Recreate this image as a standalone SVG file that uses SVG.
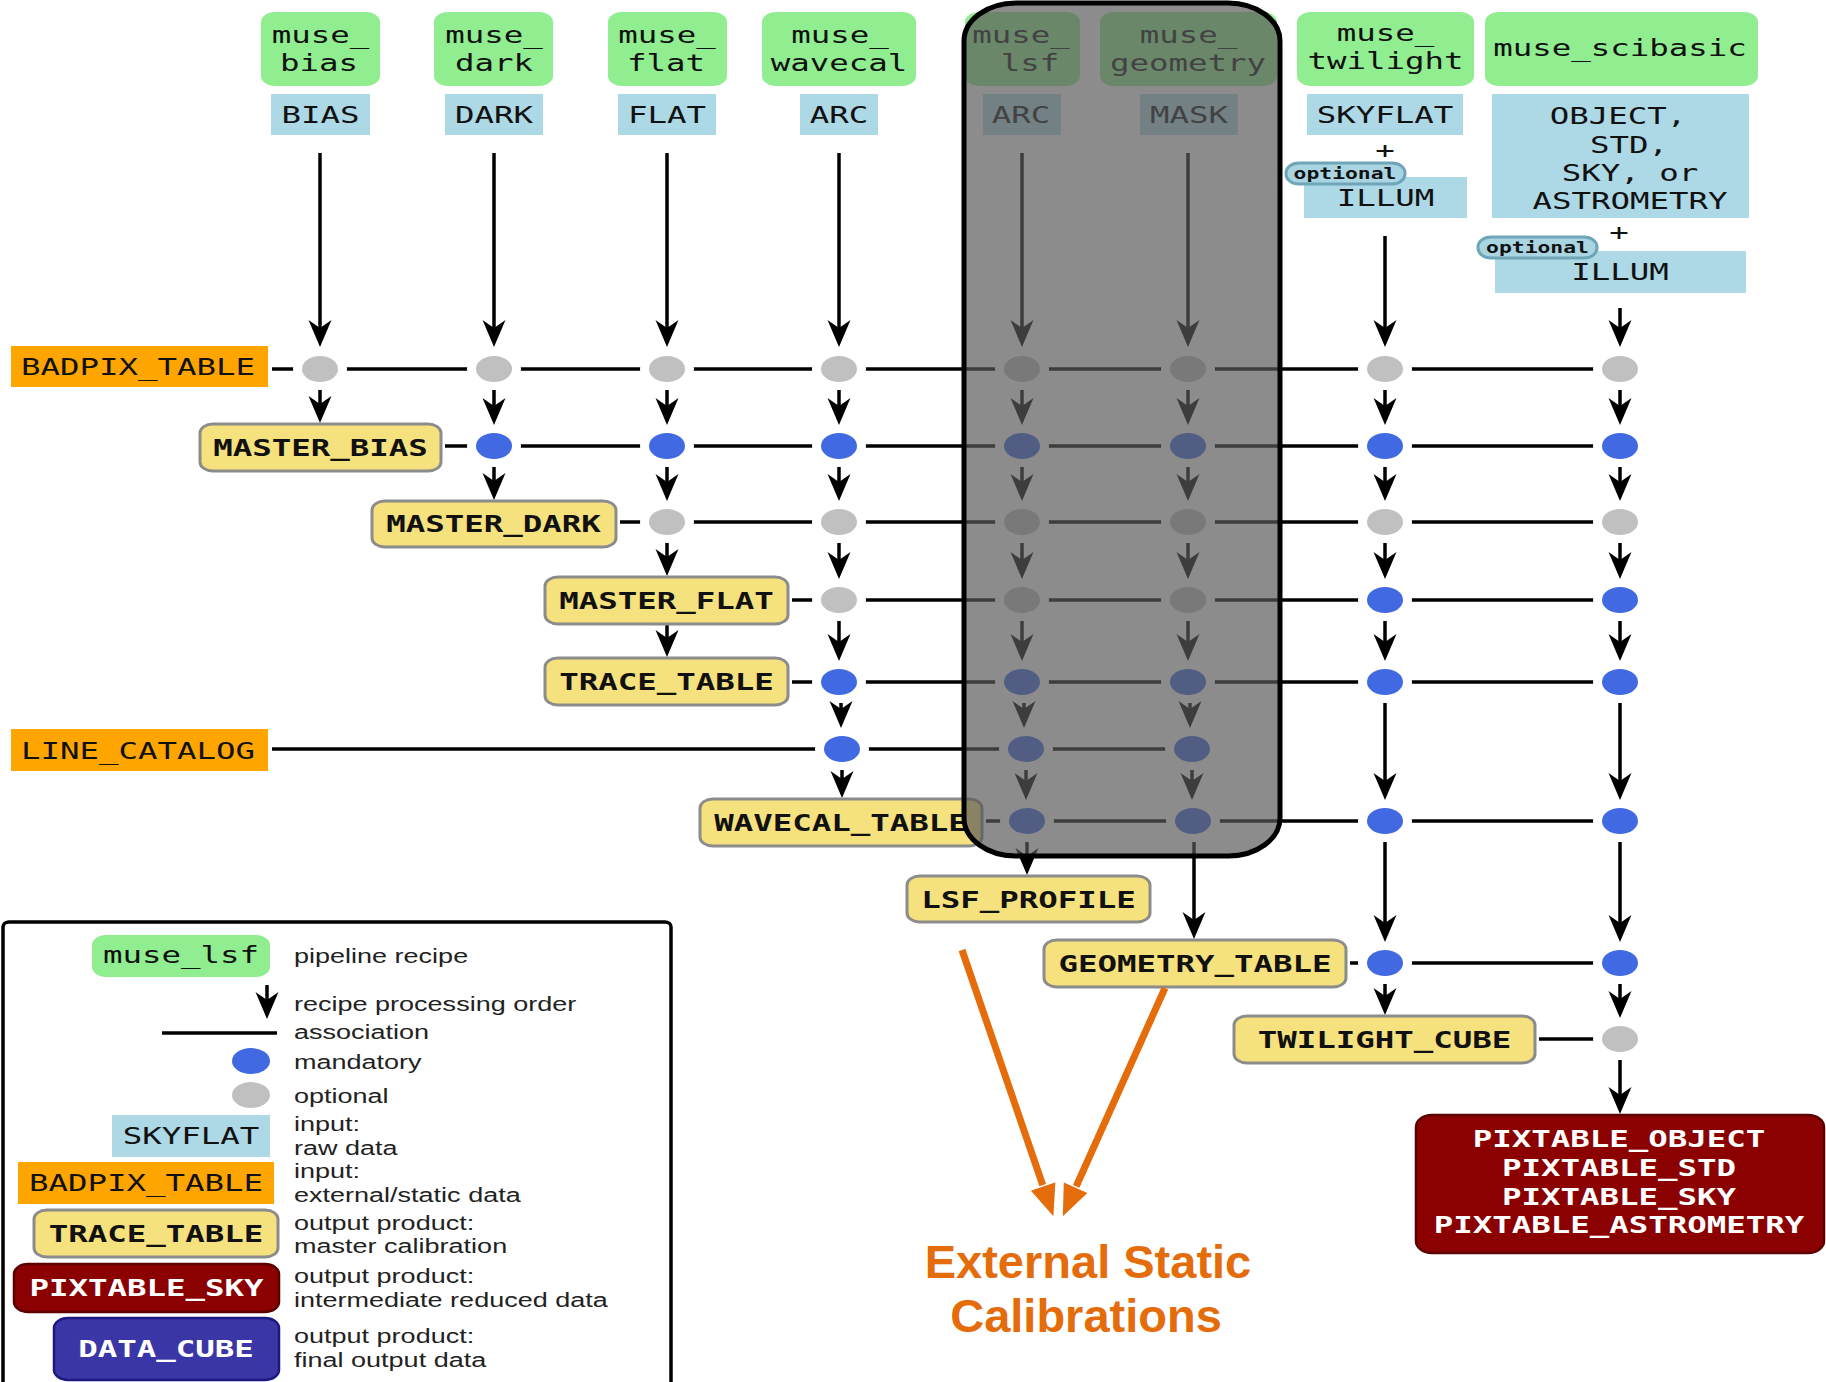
<svg xmlns="http://www.w3.org/2000/svg" width="1826" height="1382" viewBox="0 0 1826 1382">
<defs>
<style>
.rec{fill:#90ee90}
.inp{fill:#add8e6}
.ext{fill:#ffa500}
.mst{fill:#f5e17d;stroke:#8c8c8c;stroke-width:3}
.itm{fill:#8b0000;stroke:#5c0000;stroke-width:2.5}
.fin{fill:#3a36a6;stroke:#1c1880;stroke-width:2.5}
.badge{fill:#a9d5e3;stroke:#6ea6b8;stroke-width:3}
.t{font-family:'DejaVu Sans Mono',monospace;font-size:23.5px;text-anchor:middle;fill:#111}
.b{font-weight:bold}
.w{fill:#fff}
.sm{font-size:15.5px}
.ls{font-family:'Liberation Sans',Arial,sans-serif;font-size:19.3px;fill:#222}
.ln{stroke:#000;stroke-width:3.5;fill:none}
.ar{stroke:#000;stroke-width:3.5;fill:none;marker-end:url(#ah)}
.jm{fill:#4169e1;stroke:#fff;stroke-width:18;paint-order:stroke}
.jo{fill:#c0c0c0;stroke:#fff;stroke-width:18;paint-order:stroke}
.lm{fill:#4169e1}
.lo{fill:#c0c0c0}
.or{stroke:#e46c0a;stroke-width:7;fill:none}
.orh{fill:#e46c0a;stroke:#fff;stroke-width:1.5}
.ot{font-family:'Liberation Sans',Arial,sans-serif;font-weight:bold;font-size:47px;fill:#e46c0a;text-anchor:middle}
</style>
<marker id="ah" markerUnits="userSpaceOnUse" markerWidth="40" markerHeight="30" viewBox="-20 -15 40 30" refX="0" refY="0" orient="auto">
<path d="M10,0 L-17,-11.5 L-9,0 L-17,11.5 Z" fill="#000"/>
</marker>
</defs>
<rect x="0" y="0" width="1826" height="1382" fill="#fff"/>

<g id="connectors">
<g id="associations">
<line class="ln" x1="272" y1="369" x2="1620" y2="369"/>
<line class="ln" x1="445" y1="446" x2="1620" y2="446"/>
<line class="ln" x1="620" y1="522" x2="1620" y2="522"/>
<line class="ln" x1="792" y1="600" x2="1620" y2="600"/>
<line class="ln" x1="792" y1="682" x2="1620" y2="682"/>
<line class="ln" x1="272" y1="749" x2="1192" y2="749"/>
<line class="ln" x1="986" y1="821" x2="1620" y2="821"/>
<line class="ln" x1="1350" y1="963" x2="1620" y2="963"/>
<line class="ln" x1="1539" y1="1039" x2="1620" y2="1039"/>
</g>
<g id="junctions">
<ellipse class="jo" cx="320" cy="369" rx="18" ry="13"/>
<ellipse class="jo" cx="494" cy="369" rx="18" ry="13"/>
<ellipse class="jo" cx="667" cy="369" rx="18" ry="13"/>
<ellipse class="jo" cx="839" cy="369" rx="18" ry="13"/>
<ellipse class="jo" cx="1022" cy="369" rx="18" ry="13"/>
<ellipse class="jo" cx="1188" cy="369" rx="18" ry="13"/>
<ellipse class="jo" cx="1385" cy="369" rx="18" ry="13"/>
<ellipse class="jo" cx="1620" cy="369" rx="18" ry="13"/>

<ellipse class="jm" cx="494" cy="446" rx="18" ry="13"/>
<ellipse class="jm" cx="667" cy="446" rx="18" ry="13"/>
<ellipse class="jm" cx="839" cy="446" rx="18" ry="13"/>
<ellipse class="jm" cx="1022" cy="446" rx="18" ry="13"/>
<ellipse class="jm" cx="1188" cy="446" rx="18" ry="13"/>
<ellipse class="jm" cx="1385" cy="446" rx="18" ry="13"/>
<ellipse class="jm" cx="1620" cy="446" rx="18" ry="13"/>

<ellipse class="jo" cx="667" cy="522" rx="18" ry="13"/>
<ellipse class="jo" cx="839" cy="522" rx="18" ry="13"/>
<ellipse class="jo" cx="1022" cy="522" rx="18" ry="13"/>
<ellipse class="jo" cx="1188" cy="522" rx="18" ry="13"/>
<ellipse class="jo" cx="1385" cy="522" rx="18" ry="13"/>
<ellipse class="jo" cx="1620" cy="522" rx="18" ry="13"/>

<ellipse class="jo" cx="839" cy="600" rx="18" ry="13"/>
<ellipse class="jo" cx="1022" cy="600" rx="18" ry="13"/>
<ellipse class="jo" cx="1188" cy="600" rx="18" ry="13"/>
<ellipse class="jm" cx="1385" cy="600" rx="18" ry="13"/>
<ellipse class="jm" cx="1620" cy="600" rx="18" ry="13"/>

<ellipse class="jm" cx="839" cy="682" rx="18" ry="13"/>
<ellipse class="jm" cx="1022" cy="682" rx="18" ry="13"/>
<ellipse class="jm" cx="1188" cy="682" rx="18" ry="13"/>
<ellipse class="jm" cx="1385" cy="682" rx="18" ry="13"/>
<ellipse class="jm" cx="1620" cy="682" rx="18" ry="13"/>

<ellipse class="jm" cx="842" cy="749" rx="18" ry="13"/>
<ellipse class="jm" cx="1026" cy="749" rx="18" ry="13"/>
<ellipse class="jm" cx="1192" cy="749" rx="18" ry="13"/>

<ellipse class="jm" cx="1027" cy="821" rx="18" ry="13"/>
<ellipse class="jm" cx="1193" cy="821" rx="18" ry="13"/>
<ellipse class="jm" cx="1385" cy="821" rx="18" ry="13"/>
<ellipse class="jm" cx="1620" cy="821" rx="18" ry="13"/>

<ellipse class="jm" cx="1385" cy="963" rx="18" ry="13"/>
<ellipse class="jm" cx="1620" cy="963" rx="18" ry="13"/>

<ellipse class="jo" cx="1620" cy="1039" rx="18" ry="13"/>
</g>
<g id="order-arrows">
<path class="ar" d="M320,153 V337"/>
<path class="ar" d="M320,390 V413"/>

<path class="ar" d="M494,153 V337"/>
<path class="ar" d="M494,390 V415"/>
<path class="ar" d="M494,467 V490"/>

<path class="ar" d="M667,153 V337"/>
<path class="ar" d="M667,390 V415"/>
<path class="ar" d="M667,467 V491"/>
<path class="ar" d="M667,543 V566"/>
<path class="ar" d="M667,624 V647"/>

<path class="ar" d="M839,153 V337"/>
<path class="ar" d="M839,390 V415"/>
<path class="ar" d="M839,467 V491"/>
<path class="ar" d="M839,543 V569"/>
<path class="ar" d="M839,621 V651"/>
<path class="ar" d="M841,703 V718"/>
<path class="ar" d="M842,770 V788"/>

<path class="ar" d="M1022,153 V337"/>
<path class="ar" d="M1022,390 V415"/>
<path class="ar" d="M1022,467 V491"/>
<path class="ar" d="M1022,543 V569"/>
<path class="ar" d="M1022,621 V651"/>
<path class="ar" d="M1024,703 V718"/>
<path class="ar" d="M1026,770 V790"/>
<path class="ar" d="M1027,842 V865"/>

<path class="ar" d="M1188,153 V337"/>
<path class="ar" d="M1188,390 V415"/>
<path class="ar" d="M1188,467 V491"/>
<path class="ar" d="M1188,543 V569"/>
<path class="ar" d="M1188,621 V651"/>
<path class="ar" d="M1190,703 V718"/>
<path class="ar" d="M1192,770 V790"/>
<path class="ar" d="M1194,842 V929"/>

<path class="ar" d="M1385,236 V337"/>
<path class="ar" d="M1385,390 V415"/>
<path class="ar" d="M1385,467 V491"/>
<path class="ar" d="M1385,543 V569"/>
<path class="ar" d="M1385,621 V651"/>
<path class="ar" d="M1385,703 V790"/>
<path class="ar" d="M1385,842 V932"/>
<path class="ar" d="M1385,984 V1005"/>

<path class="ar" d="M1620,308 V337"/>
<path class="ar" d="M1620,390 V415"/>
<path class="ar" d="M1620,467 V491"/>
<path class="ar" d="M1620,543 V569"/>
<path class="ar" d="M1620,621 V651"/>
<path class="ar" d="M1620,703 V790"/>
<path class="ar" d="M1620,842 V932"/>
<path class="ar" d="M1620,984 V1008"/>
<path class="ar" d="M1620,1060 V1104"/>
</g>
</g>

<g id="recipes">
<g id="muse_bias"><rect class="rec" x="261" y="12" width="119" height="74" rx="14" ry="10"/>
<text class="t" transform="translate(320.5,42.5) scale(1.38,1)">muse_</text><text class="t" transform="translate(319,71) scale(1.38,1)">bias</text></g>
<g id="muse_dark"><rect class="rec" x="434" y="12" width="119" height="74" rx="14" ry="10"/>
<text class="t" transform="translate(494,42.5) scale(1.38,1)">muse_</text><text class="t" transform="translate(494,71) scale(1.38,1)">dark</text></g>
<g id="muse_flat"><rect class="rec" x="608" y="12" width="119" height="74" rx="14" ry="10"/>
<text class="t" transform="translate(667,42.5) scale(1.38,1)">muse_</text><text class="t" transform="translate(666,71) scale(1.38,1)">flat</text></g>
<g id="muse_wavecal"><rect class="rec" x="762" y="12" width="154" height="74" rx="14" ry="10"/>
<text class="t" transform="translate(840,42.5) scale(1.38,1)">muse_</text><text class="t" transform="translate(839,71) scale(1.38,1)">wavecal</text></g>
<g id="muse_lsf"><rect class="rec" x="965" y="12" width="115" height="74" rx="14" ry="10"/>
<text class="t" transform="translate(1021,42.5) scale(1.38,1)">muse_</text><text class="t" transform="translate(1030,71) scale(1.38,1)">lsf</text></g>
<g id="muse_geometry"><rect class="rec" x="1100" y="12" width="177" height="74" rx="14" ry="10"/>
<text class="t" transform="translate(1188.5,42.5) scale(1.38,1)">muse_</text><text class="t" transform="translate(1188,71) scale(1.38,1)">geometry</text></g>
<g id="muse_twilight"><rect class="rec" x="1297" y="12" width="177" height="74" rx="14" ry="10"/>
<text class="t" transform="translate(1385.5,41) scale(1.38,1)">muse_</text><text class="t" transform="translate(1385.5,69) scale(1.38,1)">twilight</text></g>
<g id="muse_scibasic"><rect class="rec" x="1485" y="12" width="273" height="74" rx="14" ry="10"/>
<text class="t" transform="translate(1620,56) scale(1.38,1)">muse_scibasic</text></g>
</g>

<g id="inputs">
<g id="in_bias"><rect class="inp" x="271" y="94" width="99" height="41"/><text class="t" transform="translate(320.5,123) scale(1.38,1)">BIAS</text></g>
<g id="in_dark"><rect class="inp" x="445" y="94" width="98" height="41"/><text class="t" transform="translate(494,123) scale(1.38,1)">DARK</text></g>
<g id="in_flat"><rect class="inp" x="618" y="94" width="98" height="41"/><text class="t" transform="translate(667,123) scale(1.38,1)">FLAT</text></g>
<g id="in_arc"><rect class="inp" x="800" y="94" width="78" height="41"/><text class="t" transform="translate(839,123) scale(1.38,1)">ARC</text></g>
<g id="in_arc_lsf"><rect class="inp" x="983" y="94" width="78" height="41"/><text class="t" transform="translate(1021,123) scale(1.38,1)">ARC</text></g>
<g id="in_mask"><rect class="inp" x="1140" y="94" width="98" height="41"/><text class="t" transform="translate(1189,123) scale(1.38,1)">MASK</text></g>
<g id="in_skyflat"><rect class="inp" x="1307" y="94" width="156" height="41"/><text class="t" transform="translate(1385,123) scale(1.38,1)">SKYFLAT</text>
<text class="t" transform="translate(1385,158) scale(1.38,1)">+</text>
<rect class="inp" x="1304" y="177" width="163" height="41"/><text class="t" transform="translate(1385.5,206) scale(1.38,1)">ILLUM</text>
<rect class="badge" x="1286" y="163" width="119" height="21" rx="13" ry="10"/><text class="t b sm" transform="translate(1345,178.5) scale(1.38,1)">optional</text></g>
<g id="in_object"><rect class="inp" x="1492" y="94" width="257" height="124"/>
<text class="t" transform="translate(1618,124) scale(1.38,1)">OBJECT,</text>
<text class="t" transform="translate(1629,152.5) scale(1.38,1)">STD,</text>
<text class="t" transform="translate(1630,180.5) scale(1.38,1)">SKY, or</text>
<text class="t" transform="translate(1630,208.5) scale(1.38,1)">ASTROMETRY</text>
<text class="t" transform="translate(1619,240) scale(1.38,1)">+</text>
<rect class="inp" x="1495" y="251" width="251" height="42"/><text class="t" transform="translate(1620,280) scale(1.38,1)">ILLUM</text>
<rect class="badge" x="1478" y="237" width="119" height="21" rx="13" ry="10"/><text class="t b sm" transform="translate(1537.5,252.5) scale(1.38,1)">optional</text></g>
<g id="badpix_table"><rect class="ext" x="11" y="346" width="257" height="41"/><text class="t" transform="translate(138,375) scale(1.38,1)">BADPIX_TABLE</text></g>
<g id="line_catalog"><rect class="ext" x="11" y="729" width="257" height="42"/><text class="t" transform="translate(138,758.5) scale(1.38,1)">LINE_CATALOG</text></g>
</g>

<g id="products">
<g id="master_bias"><rect class="mst" x="200" y="424" width="241" height="47" rx="13" ry="9"/><text class="t b" transform="translate(320.5,455.5) scale(1.38,1)">MASTER_BIAS</text></g>
<g id="master_dark"><rect class="mst" x="372" y="501" width="244" height="46" rx="13" ry="9"/><text class="t b" transform="translate(493.5,532) scale(1.38,1)">MASTER_DARK</text></g>
<g id="master_flat"><rect class="mst" x="545" y="577" width="243" height="47" rx="13" ry="9"/><text class="t b" transform="translate(666.5,609) scale(1.38,1)">MASTER_FLAT</text></g>
<g id="trace_table"><rect class="mst" x="545" y="658" width="243" height="47" rx="13" ry="9"/><text class="t b" transform="translate(666.5,690) scale(1.38,1)">TRACE_TABLE</text></g>
<g id="wavecal_table"><rect class="mst" x="700" y="799" width="282" height="47" rx="13" ry="9"/><text class="t b" transform="translate(841,831) scale(1.38,1)">WAVECAL_TABLE</text></g>
<g id="lsf_profile"><rect class="mst" x="907" y="876" width="243" height="46" rx="13" ry="9"/><text class="t b" transform="translate(1028.5,907.5) scale(1.38,1)">LSF_PROFILE</text></g>
<g id="geometry_table"><rect class="mst" x="1044" y="940" width="302" height="47" rx="13" ry="9"/><text class="t b" transform="translate(1195,972) scale(1.38,1)">GEOMETRY_TABLE</text></g>
<g id="twilight_cube"><rect class="mst" x="1234" y="1016" width="301" height="47" rx="13" ry="9"/><text class="t b" transform="translate(1384.5,1048) scale(1.38,1)">TWILIGHT_CUBE</text></g>
<g id="pixtables"><rect class="itm" x="1416" y="1115" width="408" height="138" rx="16" ry="12"/>
<text class="t b w" transform="translate(1619,1147) scale(1.38,1)">PIXTABLE_OBJECT</text>
<text class="t b w" transform="translate(1619,1176) scale(1.38,1)">PIXTABLE_STD</text>
<text class="t b w" transform="translate(1619,1204.5) scale(1.38,1)">PIXTABLE_SKY</text>
<text class="t b w" transform="translate(1619,1233) scale(1.38,1)">PIXTABLE_ASTROMETRY</text></g>
</g>

<g id="static-calibration-highlight">
<rect x="964" y="3" width="316" height="853" rx="52" ry="38" fill="#595959" fill-opacity="0.69" stroke="#000" stroke-width="5"/>
</g>

<g id="annotation">
<line class="or" x1="962" y1="950" x2="1047.5" y2="1199"/>
<line class="or" x1="1165" y1="988" x2="1070.2" y2="1199.7"/>
<polygon class="orh" points="1054,1218 1056.2,1181.3 1029.7,1190.4"/>
<polygon class="orh" points="1062,1218 1088.7,1192.7 1063.1,1181.3"/>
<text class="ot" x="1088" y="1278">External Static</text>
<text class="ot" x="1086" y="1332">Calibrations</text>
</g>

<g id="legend">
<rect x="3" y="922" width="668" height="480" rx="6" ry="5" fill="none" stroke="#000" stroke-width="3.5"/>
<g id="legend_recipe"><rect class="rec" x="92" y="935" width="178" height="42" rx="14" ry="10"/><text class="t" transform="translate(181,963) scale(1.38,1)">muse_lsf</text>
<text class="ls" transform="translate(294,963) scale(1.4,1)">pipeline recipe</text></g>
<g id="legend_order"><path class="ar" d="M267,985 V1009"/><text class="ls" transform="translate(294,1011) scale(1.4,1)">recipe processing order</text></g>
<g id="legend_assoc"><line class="ln" x1="162" y1="1033" x2="277" y2="1033"/><text class="ls" transform="translate(294,1039) scale(1.4,1)">association</text></g>
<g id="legend_mandatory"><ellipse class="lm" cx="251" cy="1061" rx="19" ry="13"/><text class="ls" transform="translate(294,1069) scale(1.4,1)">mandatory</text></g>
<g id="legend_optional"><ellipse class="lo" cx="251" cy="1095" rx="19" ry="13"/><text class="ls" transform="translate(294,1103) scale(1.4,1)">optional</text></g>
<g id="legend_raw"><rect class="inp" x="112" y="1115" width="158" height="42"/><text class="t" transform="translate(191,1144) scale(1.38,1)">SKYFLAT</text>
<text class="ls" transform="translate(294,1131) scale(1.4,1)">input:</text><text class="ls" transform="translate(294,1155) scale(1.4,1)">raw data</text></g>
<g id="legend_static"><rect class="ext" x="18" y="1162" width="256" height="42"/><text class="t" transform="translate(146,1191) scale(1.38,1)">BADPIX_TABLE</text>
<text class="ls" transform="translate(294,1178) scale(1.4,1)">input:</text><text class="ls" transform="translate(294,1202) scale(1.4,1)">external/static data</text></g>
<g id="legend_master"><rect class="mst" x="34" y="1210" width="244" height="47" rx="13" ry="9"/><text class="t b" transform="translate(156,1242) scale(1.38,1)">TRACE_TABLE</text>
<text class="ls" transform="translate(294,1230) scale(1.4,1)">output product:</text><text class="ls" transform="translate(294,1253) scale(1.4,1)">master calibration</text></g>
<g id="legend_intermediate"><rect class="itm" x="14" y="1264" width="265" height="48" rx="14" ry="10"/><text class="t b w" transform="translate(146.5,1296) scale(1.38,1)">PIXTABLE_SKY</text>
<text class="ls" transform="translate(294,1283) scale(1.4,1)">output product:</text><text class="ls" transform="translate(294,1307) scale(1.4,1)">intermediate reduced data</text></g>
<g id="legend_final"><rect class="fin" x="54" y="1318" width="225" height="62" rx="14" ry="10"/><text class="t b w" transform="translate(166,1357) scale(1.38,1)">DATA_CUBE</text>
<text class="ls" transform="translate(294,1343) scale(1.4,1)">output product:</text><text class="ls" transform="translate(294,1367) scale(1.4,1)">final output data</text></g>
</g>
</svg>
